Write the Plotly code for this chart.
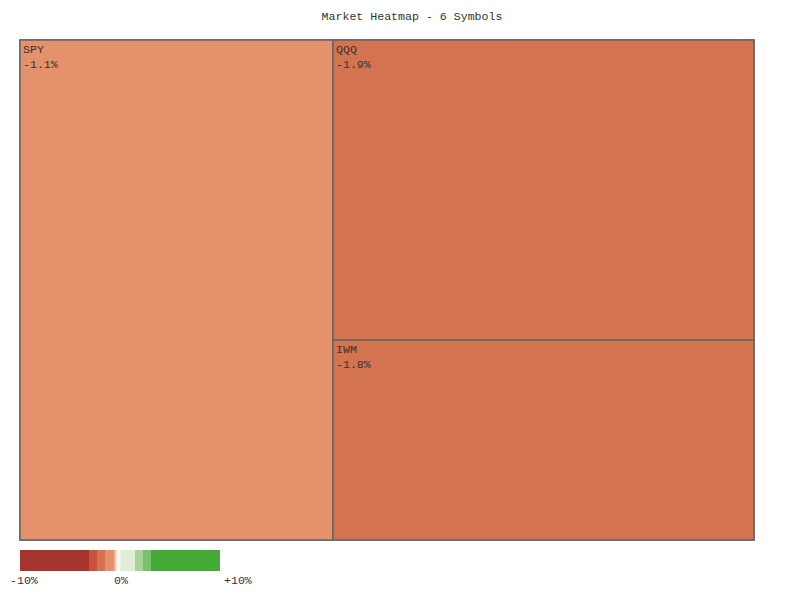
import plotly.graph_objects as go

symbols = ["SPY", "QQQ", "IWM"]
weights = [42.6, 34.4, 22.9]
changes = [-1.1, -1.9, -1.8]
change_labels = ["-1.1%", "-1.9%", "-1.8%"]
scale_labels = ["-10%", "0%", "+10%"]
scale_label_pos = [16, 113, 230]

W, H = 800, 600
FONT = "Liberation Mono"
cmin, cmax = -10, 10

def p(v):
    return (v - cmin) / (cmax - cmin)

colorscale = [
    [0.0, "#A5352C"], [p(-3.1), "#A5352C"],
    [p(-3.1), "#C85240"], [p(-2.3), "#C85240"],
    [p(-2.3), "#D4734F"], [p(-1.5), "#D4734F"],
    [p(-1.5), "#E5926C"], [p(-0.67), "#E5926C"],
    [p(-0.23), "#FFFFFF"],
    [p(0.17), "#E0EFD3"], [p(1.5), "#E0EFD3"],
    [p(1.5), "#A8D596"], [p(2.33), "#A8D596"],
    [p(2.33), "#77C26A"], [p(3.07), "#77C26A"],
    [p(3.07), "#45A936"], [1.0, "#45A936"],
]

fig = go.Figure(go.Treemap(
    labels=symbols,
    parents=[""] * len(symbols),
    values=weights,
    customdata=change_labels,
    texttemplate="%{label}<br>%{customdata}",
    textposition="top left",
    textfont=dict(family=FONT, size=11.6, color="#333333"),
    sort=False,
    tiling=dict(packing="squarify", pad=0),
    pathbar=dict(visible=False),
    marker=dict(
        colors=changes,
        colorscale=colorscale,
        cmin=cmin, cmax=cmax,
        line=dict(color="#666666", width=1.5),
        pad=dict(t=0, l=0, r=0, b=0),
        showscale=True,
        colorbar=dict(
            orientation="h",
            x=12 / W, xanchor="left",
            y=1 - 542 / H, yanchor="top",
            len=200 / W, lenmode="fraction",
            thickness=21, thicknessmode="pixels",
            xpad=0, ypad=0,
            outlinewidth=0,
            showticklabels=False,
            ticks="",
        ),
    ),
    domain=dict(x=[12 / W, 746 / W], y=[1 - 532 / H, 1 - 32 / H]),
    hoverinfo="skip",
))

annotations = [
    dict(text=t, x=xp / W, y=1 - 572 / H, xref="paper", yref="paper",
         xanchor="center", yanchor="middle", showarrow=False,
         font=dict(family=FONT, size=11.6, color="#333333"))
    for t, xp in zip(scale_labels, scale_label_pos)
]

fig.update_layout(
    width=W, height=H,
    margin=dict(l=0, r=0, t=0, b=0),
    paper_bgcolor="white",
    plot_bgcolor="white",
    title=dict(
        text="Market Heatmap - 6 Symbols",
        x=404 / W, xref="container", xanchor="center",
        y=1 - 8 / H, yref="container", yanchor="middle",
        font=dict(family=FONT, size=11.6, color="#333333"),
    ),
    annotations=annotations,
)

fig.write_html("out.html")
